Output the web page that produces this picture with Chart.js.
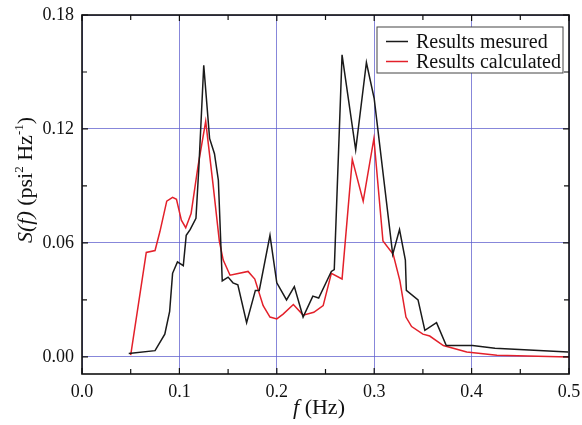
<!DOCTYPE html>
<html>
<head>
<meta charset="utf-8">
<script src="https://cdn.jsdelivr.net/npm/chart.js@4"></script>
<style>
  html, body { margin: 0; padding: 0; background: #fff; }
</style>
</head>
<body>
<canvas id="psd" width="582" height="425"></canvas>
<script>
// Spectral density (f in Hz, S in psi^2/Hz)
const fMeasured = [
  0.048, 0.075, 0.085, 0.090, 0.093, 0.098, 0.104, 0.107, 0.111, 0.117,
  0.120, 0.125, 0.131, 0.136, 0.140, 0.144, 0.150, 0.155, 0.160, 0.169,
  0.178, 0.182, 0.193, 0.200, 0.210, 0.218, 0.227, 0.237, 0.243, 0.256,
  0.259, 0.267, 0.281, 0.292, 0.300, 0.319, 0.326, 0.332, 0.333, 0.345,
  0.352, 0.364, 0.374, 0.401, 0.424, 0.499
];
const sMeasured = [
  0.0018, 0.0033, 0.012, 0.024, 0.044, 0.050, 0.048, 0.064, 0.067, 0.073,
  0.100, 0.1535, 0.115, 0.107, 0.093, 0.040, 0.042, 0.039, 0.038, 0.018,
  0.035, 0.035, 0.064, 0.039, 0.030, 0.037, 0.021, 0.032, 0.031, 0.045,
  0.046, 0.159, 0.109, 0.155, 0.136, 0.054, 0.067, 0.051, 0.035, 0.030,
  0.014, 0.018, 0.006, 0.006, 0.0045, 0.0026
];
const fCalculated = [
  0.050, 0.066, 0.075, 0.080, 0.087, 0.093, 0.097, 0.102, 0.1065, 0.112,
  0.119, 0.127, 0.1345, 0.141, 0.145, 0.152, 0.1705, 0.1774, 0.186, 0.193,
  0.200, 0.2065, 0.217, 0.227, 0.238, 0.2476, 0.256, 0.267, 0.2775, 0.2887,
  0.2997, 0.309, 0.3195, 0.3264, 0.3326, 0.3384, 0.350, 0.357, 0.371, 0.395,
  0.426, 0.500
];
const sCalculated = [
  0.0009, 0.055, 0.056, 0.066, 0.082, 0.084, 0.083, 0.072, 0.068, 0.0755,
  0.100, 0.124, 0.091, 0.061, 0.051, 0.043, 0.045, 0.041, 0.027, 0.021,
  0.020, 0.0225, 0.0276, 0.022, 0.0235, 0.027, 0.044, 0.041, 0.104, 0.082,
  0.115, 0.061, 0.054, 0.040, 0.021, 0.016, 0.012, 0.011, 0.006, 0.0026,
  0.0009, 0.0
];
const seriesNames = ["Results mesured", "Results calculated"];
const xTicks = [0, 0.05, 0.1, 0.15, 0.2, 0.25, 0.3, 0.35, 0.4, 0.45, 0.5];
const yTicks = [0, 0.03, 0.06, 0.09, 0.12, 0.15, 0.18];

const SERIF = "'Liberation Serif', 'DejaVu Serif', serif";
const GRID_BLUE = "rgba(95, 95, 205, 0.75)";

const isMultiple = (v, step) => Math.abs(v / step - Math.round(v / step)) < 1e-6;
const toPoints = (xs, ys) => xs.map((x, i) => ({ x: x, y: ys[i] }));

// draw a run of text pieces with their own font / vertical shift
function drawRich(ctx, pieces, cx, cy) {
  let total = 0;
  pieces.forEach((p) => { ctx.font = p.font; total += ctx.measureText(p.t).width; });
  let x = cx - total / 2;
  ctx.textAlign = "left";
  ctx.textBaseline = "middle";
  pieces.forEach((p) => {
    ctx.font = p.font;
    ctx.fillText(p.t, x, cy + (p.dy || 0));
    x += ctx.measureText(p.t).width;
  });
}

const framePlugin = {
  id: "frame",
  afterDatasetsDraw(chart) {
    const { ctx, chartArea: a, scales } = chart;
    ctx.save();
    ctx.strokeStyle = "#111";
    // inward tick marks on all four sides
    ctx.lineWidth = 1.2;
    xTicks.forEach((v) => {
      const px = scales.x.getPixelForValue(v);
      const len = isMultiple(v, 0.1) ? 6 : 5;
      ctx.beginPath();
      ctx.moveTo(px, a.bottom); ctx.lineTo(px, a.bottom - len);
      ctx.moveTo(px, a.top); ctx.lineTo(px, a.top + len);
      ctx.stroke();
    });
    yTicks.forEach((v) => {
      const py = scales.y.getPixelForValue(v);
      const len = isMultiple(v, 0.06) ? 6 : 5;
      ctx.beginPath();
      ctx.moveTo(a.left, py); ctx.lineTo(a.left + len, py);
      ctx.moveTo(a.right, py); ctx.lineTo(a.right - len, py);
      ctx.stroke();
    });
    ctx.lineWidth = 1.6;
    ctx.strokeRect(a.left, a.top, a.right - a.left, a.bottom - a.top);

    // legend box
    const bx = 377, by = 27, bw = 186, bh = 46;
    ctx.fillStyle = "#fff";
    ctx.fillRect(bx, by, bw, bh);
    ctx.lineWidth = 1;
    ctx.strokeStyle = "#444";
    ctx.strokeRect(bx, by, bw, bh);
    chart.data.datasets.forEach((ds, i) => {
      const ly = 41.5 + i * 20;
      ctx.strokeStyle = ds.borderColor;
      ctx.lineWidth = 1.5;
      ctx.beginPath();
      ctx.moveTo(386, ly); ctx.lineTo(408, ly);
      ctx.stroke();
      ctx.fillStyle = "#111";
      ctx.font = "20px " + SERIF;
      ctx.textAlign = "left";
      ctx.textBaseline = "middle";
      ctx.fillText(ds.label, 416, ly + 1);
    });

    // axis titles
    ctx.fillStyle = "#111";
    const reg = "22px " + SERIF, ita = "italic 22px " + SERIF, sup = "13px " + SERIF;
    drawRich(ctx, [
      { t: "f", font: ita },
      { t: " (Hz)", font: reg }
    ], 319, 408);
    ctx.translate(26, 180);
    ctx.rotate(-Math.PI / 2);
    drawRich(ctx, [
      { t: "S(f)", font: ita },
      { t: " (psi", font: reg },
      { t: "2", font: sup, dy: -6 },
      { t: " Hz", font: reg },
      { t: "-1", font: sup, dy: -6 },
      { t: ")", font: reg }
    ], 0, 0);
    ctx.restore();
  }
};

new Chart(document.getElementById("psd").getContext("2d"), {
  type: "line",
  data: {
    datasets: [
      {
        label: seriesNames[0],
        data: toPoints(fMeasured, sMeasured),
        borderColor: "#1a1a1a",
        borderWidth: 1.5,
        pointRadius: 0,
        tension: 0
      },
      {
        label: seriesNames[1],
        data: toPoints(fCalculated, sCalculated),
        borderColor: "#e3202a",
        borderWidth: 1.5,
        pointRadius: 0,
        tension: 0
      }
    ]
  },
  options: {
    responsive: false,
    animation: false,
    layout: { padding: { top: 15, right: 13, left: 0, bottom: 0 } },
    plugins: {
      legend: { display: false },
      tooltip: { enabled: false }
    },
    scales: {
      x: {
        type: "linear",
        min: 0,
        max: 0.5,
        afterBuildTicks: (s) => { s.ticks = xTicks.map((v) => ({ value: v })); },
        afterFit: (s) => { s.height = 51; s.paddingLeft = 0; s.paddingRight = 0; },
        border: { display: false },
        grid: {
          drawTicks: false,
          color: (c) => (c.tick && isMultiple(c.tick.value, 0.1) ? GRID_BLUE : "rgba(0,0,0,0)")
        },
        ticks: {
          autoSkip: false,
          maxRotation: 0,
          padding: 7,
          color: "#111",
          font: { family: SERIF, size: 18 },
          callback: (v) => (isMultiple(v, 0.1) ? Number(v).toFixed(1) : "")
        }
      },
      y: {
        min: -0.009,
        max: 0.18,
        afterBuildTicks: (s) => { s.ticks = yTicks.map((v) => ({ value: v })); },
        afterFit: (s) => { s.width = 82; s.paddingTop = 0; s.paddingBottom = 0; },
        border: { display: false },
        grid: {
          drawTicks: false,
          color: (c) => (c.tick && isMultiple(c.tick.value, 0.06) ? GRID_BLUE : "rgba(0,0,0,0)")
        },
        ticks: {
          autoSkip: false,
          padding: 8,
          color: "#111",
          font: { family: SERIF, size: 18 },
          callback: (v) => (isMultiple(v, 0.06) ? Number(v).toFixed(2) : "")
        }
      }
    }
  },
  plugins: [framePlugin]
});
</script>
</body>
</html>
